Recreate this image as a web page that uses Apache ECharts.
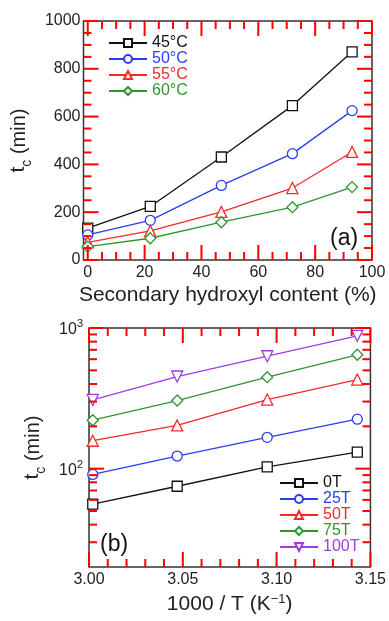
<!DOCTYPE html>
<html>
<head>
<meta charset="utf-8">
<script src="https://cdn.jsdelivr.net/npm/echarts@6/dist/echarts.min.js"></script>
<style>
  html, body { margin: 0; padding: 0; background: #fff; }
  #chart { width: 389px; height: 621px; }
</style>
</head>
<body>
<div id="chart"></div>
<script>
// (a) t_c vs secondary hydroxyl content, one line per temperature
const hydroxylContent = [0, 22, 47, 72, 93];
const tempLabels = ['45°C', '50°C', '55°C', '60°C'];
const tc45 = [133, 224, 431, 646, 871];
const tc50 = [105, 166, 312, 445, 625];
const tc55 = [74, 122, 201, 301, 452];
const tc60 = [56, 91, 158, 221, 305];

// (b) log t_c vs 1000/T (60, 55, 50, 45 °C), one line per sample
const invTemp = [3.002, 3.047, 3.095, 3.143];
const sampleLabels = ['0T', '25T', '50T', '75T', '100T'];
const tc0T = [56, 75, 103, 131];
const tc25T = [91, 123, 167, 225];
const tc50T = [158, 203, 310, 430];
const tc75T = [221, 305, 447, 645];
const tc100T = [308, 452, 630, 880];

// axis ranges and tick positions
const contentRange = [-1.5, 100];
const tcRange = [0, 1000];
const invTRange = [3.0, 3.15];
const logRange = [20, 1000];
const contentMajor = [0, 20, 40, 60, 80, 100];
const contentMinor = [5, 10, 15, 25, 30, 35, 45, 50, 55, 65, 70, 75, 85, 90, 95];
const tcMajor = [0, 200, 400, 600, 800, 1000];
const tcMinor = [50, 100, 150, 250, 300, 350, 450, 500, 550, 650, 700, 750, 850, 900, 950];
const invTMajor = [3.00, 3.05, 3.10, 3.15];
const invTMinor = [3.01, 3.02, 3.03, 3.04, 3.06, 3.07, 3.08, 3.09, 3.11, 3.12, 3.13, 3.14];
const logMajor = [100, 1000];
const logMinor = [30, 40, 50, 60, 70, 80, 90, 200, 300, 400, 500, 600, 700, 800, 900];

const FONT = "'Liberation Sans', Arial, sans-serif";
const INK = '#222';
const FRAME = '#333';
const TICK = '#ff0000';
const colors = ['#111111', '#2a3ef2', '#f22a2a', '#2f962f', '#a23be6'];

// inward ticks on all four sides, placed through the axes' own scales
function tickRows(xr, yr, xMajor, xMinor, yMajor, yMinor) {
  const rows = [];
  [[xMajor, 15], [xMinor, 8]].forEach(([vals, len]) => vals.forEach((v) => {
    rows.push([v, yr[0], 0, len]);
    rows.push([v, yr[1], 1, len]);
  }));
  [[yMajor, 15], [yMinor, 8]].forEach(([vals, len]) => vals.forEach((v) => {
    rows.push([xr[0], v, 2, len]);
    rows.push([xr[1], v, 3, len]);
  }));
  return rows;
}

function tickSeries(idx, rows) {
  return {
    name: 'ticks' + idx,
    type: 'custom',
    xAxisIndex: idx,
    yAxisIndex: idx,
    silent: true,
    clip: false,
    z: 10,
    data: rows,
    renderItem: (params, api) => {
      const p = api.coord([api.value(0), api.value(1)]);
      const len = api.value(3);
      const d = [[0, -len], [0, len], [len, 0], [-len, 0]][api.value(2)];
      return {
        type: 'line',
        shape: { x1: p[0], y1: p[1], x2: p[0] + d[0], y2: p[1] + d[1] },
        style: { stroke: TICK, lineWidth: 2 }
      };
    }
  };
}

const yTitle = (gap) => ({
  name: '{t|t}{c|c}{n| (min)}',
  nameLocation: 'middle',
  nameRotate: 90,
  nameGap: gap,
  nameTextStyle: {
    rich: {
      t: { fontSize: 21, fontFamily: FONT, color: INK, verticalAlign: 'bottom', padding: [0, 0, 5, 0] },
      c: { fontSize: 14, fontFamily: FONT, color: INK, verticalAlign: 'bottom' },
      n: { fontSize: 20, fontFamily: FONT, color: INK, verticalAlign: 'bottom', padding: [0, 0, 5, 0] }
    }
  }
});

const axisBase = () => ({
  axisLine: { show: false, onZero: false },
  axisTick: { show: false },
  splitLine: { show: false }
});

const xAxes = [
  Object.assign(axisBase(), {
    gridIndex: 0, type: 'value', min: contentRange[0], max: contentRange[1],
    axisLabel: { customValues: contentMajor, margin: 5, color: INK, fontSize: 16, fontFamily: FONT, formatter: (v) => String(v) },
    name: 'Secondary hydroxyl content (%)', nameLocation: 'middle', nameGap: 25,
    nameTextStyle: { fontSize: 21, fontFamily: FONT, color: INK }
  }),
  Object.assign(axisBase(), {
    gridIndex: 1, type: 'value', min: invTRange[0], max: invTRange[1],
    axisLabel: { customValues: invTMajor, margin: 5, color: INK, fontSize: 16, fontFamily: FONT, formatter: (v) => v.toFixed(2) },
    name: '{n|1000 / T (K}{s|−1}{n|)}', nameLocation: 'middle', nameGap: 26,
    nameTextStyle: {
      rich: {
        n: { fontSize: 21, fontFamily: FONT, color: INK, verticalAlign: 'bottom' },
        s: { fontSize: 13, fontFamily: FONT, color: INK, verticalAlign: 'bottom', padding: [0, 0, 9, 0] }
      }
    }
  })
];

const yAxes = [
  Object.assign(axisBase(), {
    gridIndex: 0, type: 'value', min: tcRange[0], max: tcRange[1],
    axisLabel: { customValues: tcMajor, margin: 3, color: INK, fontSize: 16, fontFamily: FONT, formatter: (v) => String(v) }
  }, yTitle(35)),
  Object.assign(axisBase(), {
    gridIndex: 1, type: 'log', logBase: 10, min: logRange[0], max: logRange[1],
    axisLabel: {
      customValues: logMajor, margin: 6,
      formatter: (v) => '{b|10}{s|' + Math.round(Math.log10(v)) + '}',
      rich: {
        b: { fontSize: 16, fontFamily: FONT, color: INK, verticalAlign: 'bottom' },
        s: { fontSize: 11, fontFamily: FONT, color: INK, verticalAlign: 'bottom', padding: [0, 0, 8, 0] }
      }
    }
  }, yTitle(41))
];

const markers = [
  { symbol: 'rect', size: 10, rotate: 0 },
  { symbol: 'circle', size: 10, rotate: 0 },
  { symbol: 'triangle', size: 11, rotate: 0 },
  { symbol: 'diamond', size: 11, rotate: 0 },
  { symbol: 'triangle', size: 11, rotate: 180 }
];

function lineSeries(name, xs, ys, i, axisIndex) {
  const m = markers[i];
  return {
    name: name,
    type: 'line',
    xAxisIndex: axisIndex,
    yAxisIndex: axisIndex,
    data: xs.map((x, j) => [x, ys[j]]),
    symbol: m.symbol,
    symbolSize: m.size,
    symbolRotate: m.rotate,
    showAllSymbol: true,
    lineStyle: { color: colors[i], width: 1.3 },
    itemStyle: { color: '#fff', borderColor: colors[i], borderWidth: 1.3 },
    emphasis: { disabled: true },
    z: 3
  };
}

const tempSeries = [tc45, tc50, tc55, tc60];
const sampleSeries = [tc0T, tc25T, tc50T, tc75T, tc100T];

const series = []
  .concat(tempSeries.map((ys, i) => lineSeries(tempLabels[i], hydroxylContent, ys, i, 0)))
  .concat(sampleSeries.map((ys, i) => lineSeries(sampleLabels[i], invTemp, ys, i, 1)))
  .concat([
    tickSeries(0, tickRows(contentRange, tcRange, contentMajor, contentMinor, tcMajor, tcMinor)),
    tickSeries(1, tickRows(invTRange, logRange, invTMajor, invTMinor, logMajor, logMinor))
  ]);

const legendBase = {
  orient: 'vertical',
  padding: 0,
  itemGap: 0,
  itemWidth: 38,
  itemHeight: 10,
  selectedMode: false,
  textStyle: { fontSize: 16, fontFamily: FONT }
};

const chart = echarts.init(document.getElementById('chart'), null, { renderer: 'canvas' });
chart.setOption({
  backgroundColor: '#fff',
  animation: false,
  grid: [
    { left: 83, right: 17, top: 21, height: 239, show: true, backgroundColor: 'transparent', borderColor: FRAME, borderWidth: 1.5 },
    { left: 89, right: 17, top: 328, height: 239, show: true, backgroundColor: 'transparent', borderColor: FRAME, borderWidth: 1.5 }
  ],
  xAxis: xAxes,
  yAxis: yAxes,
  legend: [
    Object.assign({}, legendBase, {
      left: 108, top: 35,
      textStyle: Object.assign({}, legendBase.textStyle, { lineHeight: 16 }),
      data: tempLabels.map((n, i) => ({ name: n, textStyle: { color: colors[i] } }))
    }),
    Object.assign({}, legendBase, {
      left: 279, top: 475,
      textStyle: Object.assign({}, legendBase.textStyle, { lineHeight: 15 }),
      data: sampleLabels.map((n, i) => ({ name: n, textStyle: { color: colors[i] } }))
    })
  ],
  graphic: [
    { type: 'text', left: 330, top: 227, style: { text: '(a)', fontSize: 23, fontFamily: FONT, fill: '#111' } },
    { type: 'text', left: 100, top: 533, style: { text: '(b)', fontSize: 23, fontFamily: FONT, fill: '#111' } }
  ],
  series: series
});
</script>
</body>
</html>
